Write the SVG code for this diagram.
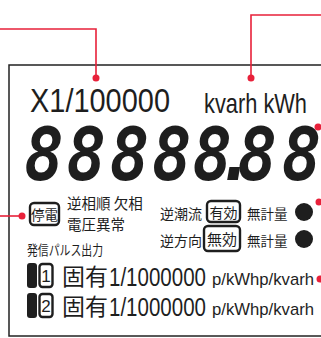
<svg xmlns="http://www.w3.org/2000/svg" width="321" height="338" viewBox="0 0 321 338">
<style>
.lead{fill:none;stroke:#e8213a;stroke-width:1.6}
.rdot{fill:#e8213a}
.frame{fill:none;stroke:#222;stroke-width:1.5}
.lat{font-family:"Liberation Sans",Arial,sans-serif;fill:#1e1e1e}
.jp{font-family:"Noto Sans CJK JP",sans-serif;fill:#1e1e1e}
.seg{font-family:"DejaVu Sans Mono",monospace;font-weight:bold;font-style:italic;fill:#1e1e1e}
.tag{fill:none;stroke:#1e1e1e;stroke-width:2.4}
</style>
<rect fill="#fff" width="321" height="338"/>
<g id="panel">
<rect class="frame" x="9" y="65" width="340" height="271"/>
</g>
<g id="multiplier"><text class="lat" x="30" y="112" font-size="33" textLength="140" lengthAdjust="spacingAndGlyphs">X1/100000</text></g>
<g id="units"><text class="lat" x="204" y="113" font-size="28" textLength="103" lengthAdjust="spacingAndGlyphs">kvarh kWh</text></g>
<g id="digits"><text class="seg" font-size="73" y="180" transform="scale(0.9,1)" x="27 74 122 169 214 240 264 313">88888.88</text></g>
<g id="outage">
<rect class="tag" x="30" y="203" width="29" height="22" rx="4"/>
<text class="jp" x="44.5" y="220" font-size="13.5" text-anchor="middle">停電</text>
</g>
<g id="phase"><text class="jp" x="67" y="209" font-size="14.5">逆相順 欠相</text>
<text class="jp" x="67" y="230" font-size="14.5">電圧異常</text></g>
<g id="pulse-title"><text class="jp" x="27" y="255" font-size="13.5" textLength="76" lengthAdjust="spacingAndGlyphs">発信パルス出力</text></g>
<g id="pulse1">
<rect x="27" y="263" width="10" height="25" rx="3" fill="#1e1e1e"/>
<rect class="tag" x="39.5" y="264" width="13" height="23" rx="3"/>
<text class="lat" x="46" y="282" font-size="17" text-anchor="middle">1</text>
<text class="jp" x="62" y="285" font-size="23">固有</text>
<text class="lat" x="109" y="286" font-size="26" textLength="97" lengthAdjust="spacingAndGlyphs">1/1000000</text>
<text class="lat" x="212" y="285" font-size="17" textLength="102" lengthAdjust="spacingAndGlyphs">p/kWhp/kvarh</text>
</g>
<g id="pulse2">
<rect x="27" y="293" width="10" height="25" rx="3" fill="#1e1e1e"/>
<rect class="tag" x="39.5" y="294" width="13" height="23" rx="3"/>
<text class="lat" x="46" y="312" font-size="17" text-anchor="middle">2</text>
<text class="jp" x="62" y="315" font-size="23">固有</text>
<text class="lat" x="109" y="316" font-size="26" textLength="97" lengthAdjust="spacingAndGlyphs">1/1000000</text>
<text class="lat" x="212" y="315" font-size="17" textLength="102" lengthAdjust="spacingAndGlyphs">p/kWhp/kvarh</text>
</g>
<g id="reverse-flow">
<text class="jp" x="160" y="219" font-size="14">逆潮流</text>
<rect class="tag" x="207" y="201" width="33" height="21" rx="4"/>
<text class="jp" x="223.5" y="218" font-size="14" text-anchor="middle">有効</text>
<text class="jp" x="247" y="219" font-size="13.5">無計量</text>
<circle cx="304" cy="212" r="9" fill="#1e1e1e"/>
</g>
<g id="reverse-dir">
<text class="jp" x="160" y="246" font-size="14">逆方向</text>
<rect class="tag" x="204" y="226" width="36" height="25" rx="4"/>
<text class="jp" x="222" y="245" font-size="15" text-anchor="middle">無効</text>
<text class="jp" x="247" y="246" font-size="13.5">無計量</text>
<circle cx="304" cy="239" r="9" fill="#1e1e1e"/>
</g>
<g id="connectors">
<path class="lead" d="M0,29 H96 V78"/><circle class="rdot" cx="96" cy="78" r="3.5"/>
<path class="lead" d="M321,15 H251 V78"/><circle class="rdot" cx="251" cy="78" r="3.5"/>
<path class="lead" d="M318,127 H321"/><circle class="rdot" cx="318" cy="127" r="3.5"/>
<path class="lead" d="M319,202 H321"/><circle class="rdot" cx="319" cy="202" r="3.5"/>
<path class="lead" d="M320,279 H321"/><circle class="rdot" cx="320" cy="279" r="3.5"/>
<path class="lead" d="M0,216 H22"/><circle class="rdot" cx="22" cy="216" r="3.5"/>
</g>
</svg>
